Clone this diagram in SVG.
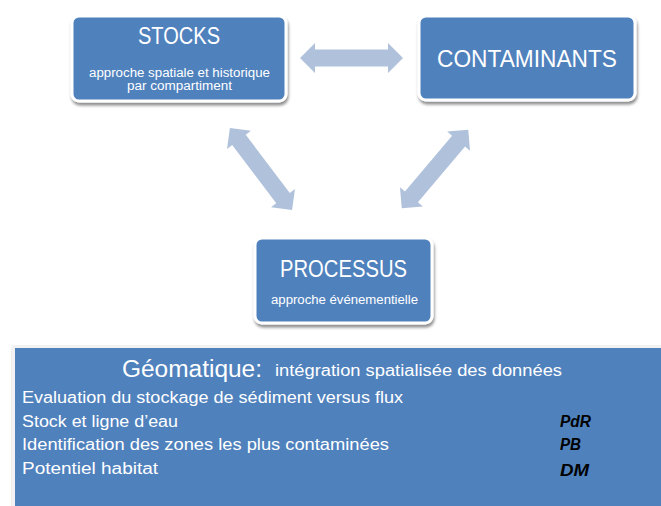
<svg xmlns="http://www.w3.org/2000/svg" width="661" height="506" viewBox="0 0 661 506">
<defs>
<filter id="sh" x="-10%" y="-10%" width="125%" height="130%">
<feGaussianBlur in="SourceAlpha" stdDeviation="1.8"/>
<feOffset dx="1" dy="3" result="b"/>
<feComponentTransfer><feFuncA type="linear" slope="0.45"/></feComponentTransfer>
<feMerge><feMergeNode/><feMergeNode in="SourceGraphic"/></feMerge>
</filter>
<path id="arr" d="M-51.5,0 L-36.5,-15 L-36.5,-8.5 L36.5,-8.5 L36.5,-15 L51.5,0 L36.5,15 L36.5,8.5 L-36.5,8.5 L-36.5,15 Z"/>
</defs>
<style>
.box{fill:#4F81BD;stroke:#FFFFFF;stroke-width:3}
.arrow{fill:#B0C1DC}
.t{font-family:"Liberation Sans",Arial,sans-serif;fill:#FFFFFF}
.title{font-size:23px;text-anchor:middle}
.sub{font-size:12px;text-anchor:middle}
.line{font-size:16px}
.tag{font-family:"Liberation Sans",Arial,sans-serif;font-size:16px;font-weight:bold;font-style:italic;fill:#000000}
</style>
<rect width="661" height="506" fill="#FFFFFF"/>
<g id="connectors">
<use href="#arr" class="arrow" transform="translate(351.5,58)"/>
<use href="#arr" class="arrow" transform="translate(261,169) rotate(52.9)"/>
<use href="#arr" class="arrow" transform="translate(435,169) rotate(130.2)"/>
</g>
<g id="stocks">
<rect class="box" x="72" y="16" width="214" height="85" rx="7" filter="url(#sh)"/>
<text class="t title" x="179" y="44" textLength="82" lengthAdjust="spacingAndGlyphs">STOCKS</text>
<text class="t sub" x="179.5" y="77" textLength="181" lengthAdjust="spacingAndGlyphs">approche spatiale et historique</text>
<text class="t sub" x="179.5" y="90" textLength="105" lengthAdjust="spacingAndGlyphs">par compartiment</text>
</g>
<g id="contaminants">
<rect class="box" x="419" y="16" width="216" height="84" rx="7" filter="url(#sh)"/>
<text class="t title" x="527" y="67" textLength="180" lengthAdjust="spacingAndGlyphs">CONTAMINANTS</text>
</g>
<g id="processus">
<rect class="box" x="255" y="238" width="177" height="85" rx="7" filter="url(#sh)"/>
<text class="t title" x="343.5" y="277" textLength="127" lengthAdjust="spacingAndGlyphs">PROCESSUS</text>
<text class="t sub" x="344.5" y="304" textLength="147" lengthAdjust="spacingAndGlyphs">approche événementielle</text>
</g>
<g id="geomatique">
<rect x="13.5" y="346.5" width="660" height="175" fill="#4F81BD" stroke="#F2F2F2" stroke-width="3" filter="url(#sh)"/>
<text class="t" x="122" y="377" font-size="23" textLength="140" lengthAdjust="spacingAndGlyphs">Géomatique:</text>
<text class="t line" x="275" y="376" textLength="287" lengthAdjust="spacingAndGlyphs">intégration spatialisée des données</text>
<text class="t line" x="22" y="403" textLength="381" lengthAdjust="spacingAndGlyphs">Evaluation du stockage de sédiment versus flux</text>
<text class="t line" x="22" y="426.5" textLength="156" lengthAdjust="spacingAndGlyphs">Stock et ligne d’eau</text>
<text class="t line" x="22" y="450" textLength="367" lengthAdjust="spacingAndGlyphs">Identification des zones les plus contaminées</text>
<text class="t line" x="22" y="473.5" textLength="136" lengthAdjust="spacingAndGlyphs">Potentiel habitat</text>
<text class="tag" x="560" y="427" textLength="31" lengthAdjust="spacingAndGlyphs">PdR</text>
<text class="tag" x="560" y="450" textLength="21" lengthAdjust="spacingAndGlyphs">PB</text>
<text class="tag" x="560" y="476" textLength="29" lengthAdjust="spacingAndGlyphs">DM</text>
</g>
</svg>
